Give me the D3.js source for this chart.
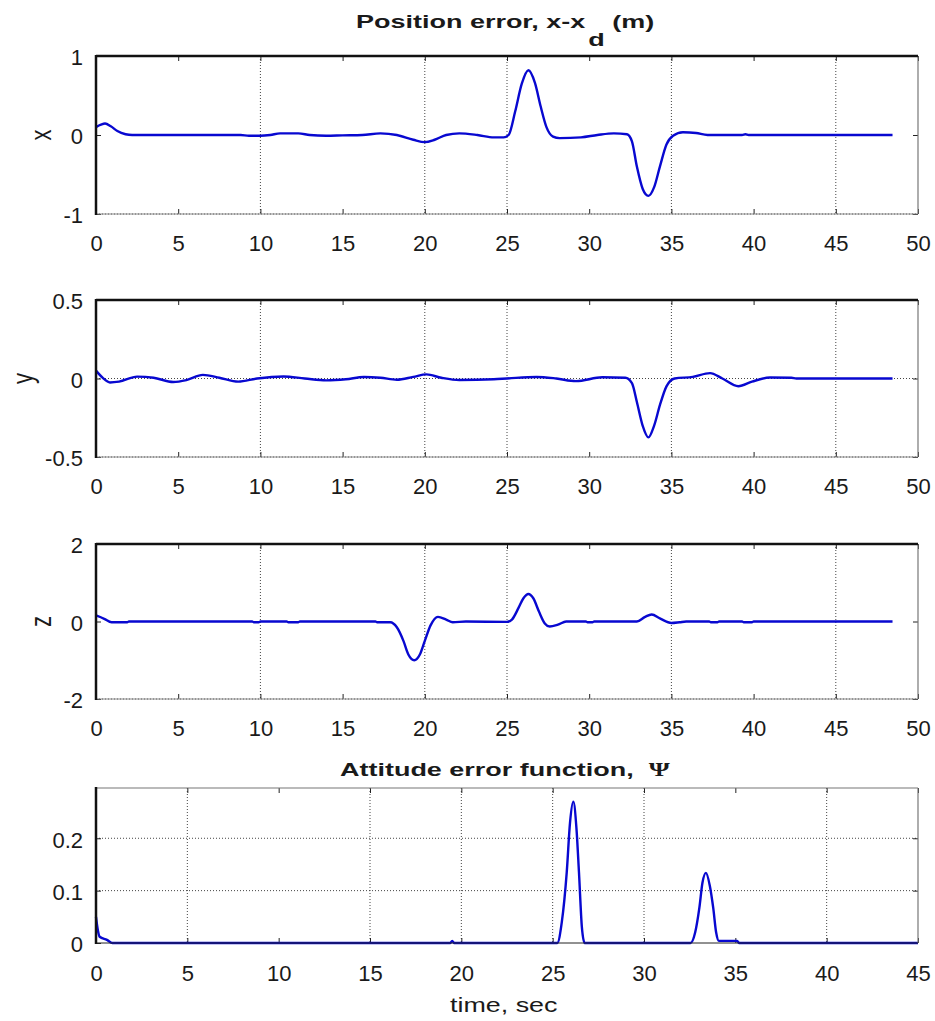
<!DOCTYPE html>
<html>
<head>
<meta charset="utf-8">
<script src="https://cdn.jsdelivr.net/npm/d3@7"></script>
<style>
  html, body { margin: 0; padding: 0; background: #fff; }
  svg { display: block; }
  text { font-family: "Liberation Sans", Arial, sans-serif; fill: #1a1a1a; white-space: pre; }
</style>
</head>
<body>
<svg id="chart" width="935" height="1021"></svg>
<script>
// ---------------- data ----------------
const xTicks13 = [0, 5, 10, 15, 20, 25, 30, 35, 40, 45, 50];
const xTicks4 = [0, 5, 10, 15, 20, 25, 30, 35, 40, 45];

const yTicksX = [-1, 0, 1];
const yTicksY = [-0.5, 0, 0.5];
const yTicksZ = [-2, 0, 2];
const yTicksPsi = [0, 0.1, 0.2];

// Position error x
const tX = [0, 0.3, 0.55, 0.9, 1.3, 1.8, 2.2, 5, 8.8, 9.3, 10, 10.6, 11.2, 12.3, 13, 14, 15, 16.2, 17.3, 18.3, 19.3, 20.0, 20.6, 21.3, 22.1, 23.2, 24.2, 24.8, 25.1, 25.5, 25.9, 26.3, 26.7, 27.05, 27.4, 27.8, 28.2, 29.5, 30.5, 31.5, 32.3, 32.6, 32.9, 33.25, 33.6, 33.95, 34.3, 34.7, 35.1, 35.7, 36.5, 37.2, 39.3, 39.5, 39.7, 48.45];
const vX = [0.10, 0.13, 0.145, 0.11, 0.05, 0.01, 0.0, 0.0, 0.0, -0.01, -0.01, 0.0, 0.02, 0.02, 0.0, -0.01, -0.005, 0.0, 0.02, 0.0, -0.06, -0.09, -0.06, 0.0, 0.02, 0.0, -0.03, -0.03, 0.0, 0.3, 0.65, 0.82, 0.66, 0.36, 0.1, -0.02, -0.04, -0.03, 0.0, 0.02, 0.01, -0.08, -0.4, -0.68, -0.77, -0.66, -0.4, -0.12, -0.01, 0.035, 0.025, 0.0, 0.0, 0.01, 0.0, 0.0];

// Position error y
const tY = [0, 0.4, 0.85, 1.4, 2.5, 3.5, 4.7, 5.5, 6.5, 7.5, 8.65, 9.8, 11.4, 12.7, 14, 15.2, 16.3, 17.3, 18.3, 19.3, 20.1, 21, 22.1, 24.2, 25, 26.8, 28, 29.2, 30.8, 32.2, 32.6, 32.9, 33.25, 33.6, 33.95, 34.3, 34.7, 35.2, 36.3, 37.35, 38.1, 39.07, 39.9, 41.0, 42.3, 42.6, 48.45];
const vY = [0.05, 0.005, -0.025, -0.02, 0.012, 0.005, -0.022, -0.01, 0.023, 0.005, -0.02, 0.0, 0.013, 0.0, -0.012, -0.005, 0.01, 0.005, -0.008, 0.01, 0.026, 0.005, -0.01, -0.005, 0.0, 0.01, 0.0, -0.017, 0.008, 0.005, -0.03, -0.15, -0.3, -0.375, -0.3, -0.17, -0.05, 0.0, 0.01, 0.034, 0.0, -0.049, -0.02, 0.006, 0.005, 0.0, 0.0];

// Position error z
const tZ = [0, 0.5, 0.95, 1.9, 2.0, 9.5, 9.6, 9.9, 10, 11.6, 11.7, 12.3, 12.4, 17.0, 17.1, 17.9, 18.3, 18.7, 19.0, 19.36, 19.7, 20.0, 20.35, 20.8, 21.3, 21.7, 22.5, 25.0, 25.3, 25.7, 26.0, 26.3, 26.6, 26.95, 27.3, 27.6, 28.1, 28.6, 29.8, 29.9, 30.2, 30.3, 32.9, 33.4, 33.8, 34.3, 35.0, 35.5, 35.9, 37.3, 37.4, 37.8, 37.9, 39.3, 39.4, 39.9, 40.0, 48.45];
const vZ = [0.155, 0.07, -0.02, -0.02, 0.0, 0.0, -0.02, -0.02, 0.0, 0.0, -0.02, -0.02, 0.0, 0.0, -0.02, -0.02, -0.15, -0.5, -0.85, -1.0, -0.85, -0.5, -0.1, 0.12, 0.05, -0.02, 0.0, -0.01, 0.05, 0.35, 0.6, 0.71, 0.6, 0.25, -0.05, -0.13, -0.08, 0.0, 0.0, -0.02, -0.02, 0.0, 0.0, 0.12, 0.18, 0.08, -0.04, -0.02, 0.0, 0.0, -0.02, -0.02, 0.0, 0.0, -0.02, -0.02, 0.0, 0.0];

// Attitude error function Psi
const tPsi = [0, 0.1, 0.2, 0.6, 0.9, 19.4, 19.5, 19.6, 25.25, 25.5, 25.77, 25.95, 26.13, 26.3, 26.44, 26.6, 26.75, 32.55, 32.8, 33.03, 33.2, 33.39, 33.6, 33.79, 33.95, 34.1, 35.1, 35.2, 45];
const vPsi = [0.05, 0.025, 0.012, 0.006, 0.0, 0.0, 0.004, 0.0, 0.0, 0.04, 0.135, 0.23, 0.27, 0.22, 0.135, 0.03, 0.0, 0.0, 0.02, 0.067, 0.115, 0.134, 0.11, 0.067, 0.02, 0.004, 0.004, 0.0, 0.0];

// grid lines visible in the reference
const gridX13 = [10, 20, 25, 35, 45];
const gridX4 = [5, 15, 20, 25, 30, 40];

// ---------------- drawing ----------------
const svg = d3.select("#chart");
const L = 96, R = 918;
const lineColor = "#0808d0";
const fmt = d => String(d);   // plain hyphen-minus like the reference

const panels = [
  { t: tX, v: vX, top: 56, bottom: 214, ydom: [-1, 1], yticks: yTicksX, xdom: [0, 50], xticks: xTicks13,
    gridX: gridX13, gridY: [-1], ylabel: "x", ylabelX: 41, topBlack: true, pad: 21 },
  { t: tY, v: vY, top: 300, bottom: 457, ydom: [-0.5, 0.5], yticks: yTicksY, xdom: [0, 50], xticks: xTicks13,
    gridX: gridX13, gridY: [-0.5, 0], ylabel: "y", ylabelX: 23, topBlack: true, pad: 21 },
  { t: tZ, v: vZ, top: 544, bottom: 699, ydom: [-2, 2], yticks: yTicksZ, xdom: [0, 50], xticks: xTicks13,
    gridX: gridX13, gridY: [-2], ylabel: "z", ylabelX: 41, topBlack: true, pad: 21 },
  { t: tPsi, v: vPsi, top: 788, bottom: 943, ydom: [0, 0.296], yticks: yTicksPsi, xdom: [0, 45], xticks: xTicks4,
    gridX: gridX4, gridY: [0.1, 0.2], ylabel: null, topBlack: false, pad: 22 }
];

panels.forEach(p => {
  const x = d3.scaleLinear().domain(p.xdom).range([L, R]);
  const y = d3.scaleLinear().domain(p.ydom).range([p.bottom, p.top]);
  const g = svg.append("g");

  // grid
  g.selectAll(".gx").data(p.gridX).enter().append("line")
    .attr("x1", d => x(d)).attr("x2", d => x(d))
    .attr("y1", p.top).attr("y2", p.bottom)
    .attr("stroke", "#444").attr("stroke-width", 1).attr("stroke-dasharray", "1,2");
  g.selectAll(".gy").data(p.gridY).enter().append("line")
    .attr("x1", L).attr("x2", R)
    .attr("y1", d => y(d)).attr("y2", d => y(d))
    .attr("stroke", "#444").attr("stroke-width", 1).attr("stroke-dasharray", "1,2");

  // axes (labels + inward ticks)
  const ax = g.append("g").attr("transform", `translate(0,${p.bottom})`)
    .call(d3.axisBottom(x).tickValues(p.xticks).tickSize(-5).tickPadding(p.pad).tickFormat(fmt));
  const axTop = g.append("g").attr("transform", `translate(0,${p.top})`)
    .call(d3.axisTop(x).tickValues(p.xticks).tickSize(-5).tickFormat(""));
  const ay = g.append("g").attr("transform", `translate(${L},0)`)
    .call(d3.axisLeft(y).tickValues(p.yticks).tickSize(-5).tickPadding(13).tickFormat(fmt));
  const ayR = g.append("g").attr("transform", `translate(${R},0)`)
    .call(d3.axisRight(y).tickValues(p.yticks).tickSize(-5).tickFormat(""));
  [ax, axTop, ay, ayR].forEach(a => {
    a.select(".domain").remove();
    a.selectAll(".tick line").attr("stroke", "#222").attr("stroke-width", 1);
    a.selectAll("text").style("font-size", "22px").attr("fill", "#1a1a1a")
      .style("font-family", "'Liberation Sans', Arial, sans-serif");
  });
  ay.selectAll("text").attr("dy", "0.40em");

  // data line
  const line = d3.line().x((d, i) => x(p.t[i])).y((d, i) => y(p.v[i])).curve(d3.curveMonotoneX);
  g.append("path").datum(p.v).attr("d", line)
    .attr("fill", "none").attr("stroke", lineColor).attr("stroke-width", 2.4)
    .attr("stroke-linejoin", "round");

  // box
  g.append("line").attr("x1", R).attr("x2", R).attr("y1", p.top).attr("y2", p.bottom)
    .attr("stroke", "#777").attr("stroke-width", 1.2);
  g.append("line").attr("x1", L).attr("x2", R).attr("y1", p.bottom).attr("y2", p.bottom)
    .attr("stroke", p.topBlack ? "#888" : "#222").attr("stroke-width", 1);
  g.append("line").attr("x1", L).attr("x2", R).attr("y1", p.top).attr("y2", p.top)
    .attr("stroke", p.topBlack ? "#111" : "#777").attr("stroke-width", p.topBlack ? 2.5 : 1.2);
  g.append("line").attr("x1", L).attr("x2", L).attr("y1", p.top - 1).attr("y2", p.bottom + 1)
    .attr("stroke", "#111").attr("stroke-width", 2.5);

  if (p.ylabel) {
    g.append("text")
      .attr("transform", `translate(${p.ylabelX},${(p.top + p.bottom) / 2}) scale(1.3,1) rotate(-90)`)
      .attr("text-anchor", "middle").attr("dy", "0.35em")
      .style("font-size", "22px").text(p.ylabel);
  }
});

// titles
const t1 = svg.append("text").attr("transform", "translate(356,28) scale(1.42,1)")
  .style("font-size", "19px").style("font-weight", "bold").attr("fill", "#111");
t1.append("tspan").text("Position error, x-x");
t1.append("tspan").attr("dx", 2).attr("dy", 18).text("d");
t1.append("tspan").attr("dy", -18).text(" (m)");

const t2 = svg.append("text").attr("transform", "translate(340,776) scale(1.42,1)")
  .style("font-size", "19px").style("font-weight", "bold").attr("fill", "#111");
t2.append("tspan").text("Attitude error function,  ");
t2.append("tspan").style("font-family", "'Liberation Serif', 'DejaVu Serif', serif").text("Ψ");

svg.append("text").attr("transform", "translate(450,1012) scale(1.28,1)")
  .style("font-size", "21px").text("time, sec");
</script>
</body>
</html>
